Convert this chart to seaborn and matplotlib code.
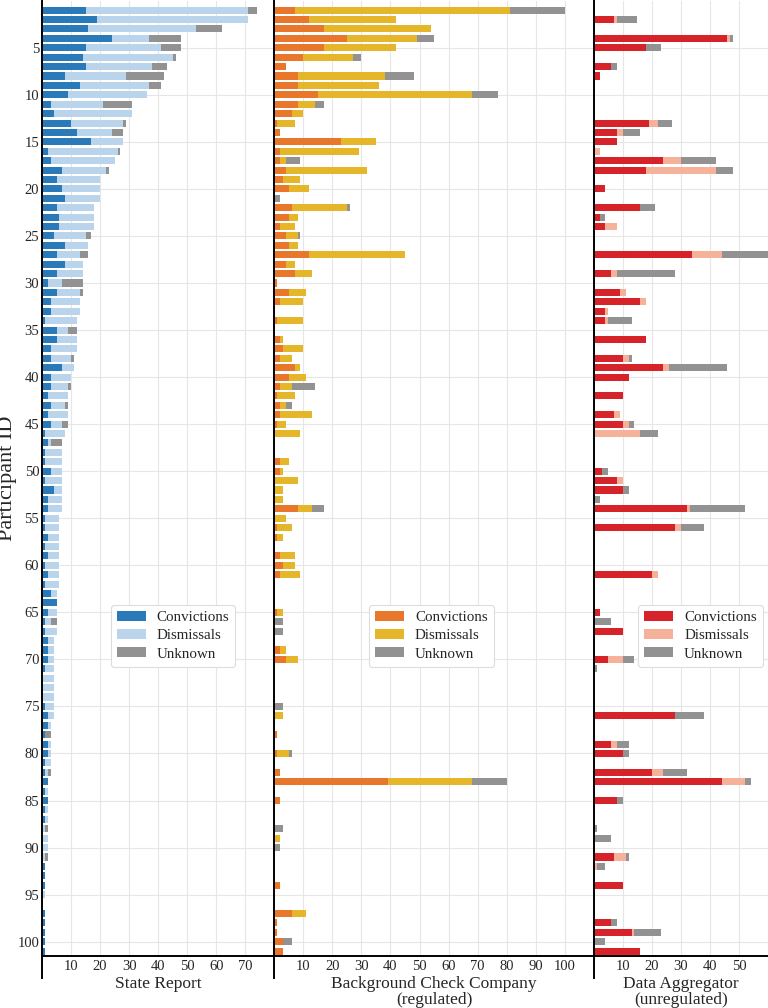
"""
Criminal record counts per participant, by source
=================================================
Three side-by-side stacked bar panels sharing the participant axis.
"""

import matplotlib
matplotlib.use("Agg")
import matplotlib.pyplot as plt
import numpy as np
import pandas as pd
import seaborn as sns

# ─── Data ────────────────────────────────────────────────────────────────────

PARTICIPANTS = list(range(1, 102))

STATE_CONV = [15, 19, 16, 24, 15, 14, 15, 8, 13, 9,
              3, 4, 10, 12, 17, 2, 3, 7, 5, 7,
              8, 5, 6, 6, 4, 8, 5, 8, 5, 2,
              5, 3, 3, 1, 5, 5, 3, 3, 7, 3,
              3, 2, 3, 2, 3, 1, 2, 1, 1, 3,
              1, 4, 2, 2, 1, 1, 2, 1, 2, 1,
              2, 1, 3, 5, 2, 1, 1, 2, 2, 2,
              1, 0, 0, 0, 1, 2, 2, 1, 2, 2,
              1, 1, 2, 1, 2, 1, 1, 0, 0, 0,
              0, 1, 1, 1, 0, 0, 1, 1, 1, 1, 1]
STATE_DISM = [56, 52, 37, 13, 26, 31, 23, 21, 24, 27,
              18, 27, 18, 12, 11, 24, 22, 15, 15, 13,
              12, 13, 12, 12, 11, 8, 8, 6, 9, 5,
              8, 10, 10, 11, 4, 7, 9, 7, 4, 7,
              6, 7, 5, 7, 4, 7, 1, 6, 6, 4,
              6, 3, 5, 5, 5, 5, 4, 5, 4, 5,
              4, 5, 2, 0, 3, 2, 4, 2, 2, 2,
              3, 4, 4, 4, 3, 2, 1, 0, 1, 1,
              2, 1, 0, 1, 0, 1, 1, 1, 2, 2,
              1, 0, 0, 0, 1, 0, 0, 0, 0, 0, 0]
STATE_UNK = [3, 0, 9, 11, 7, 1, 5, 13, 4, 0,
             10, 0, 1, 4, 0, 1, 0, 1, 0, 0,
             0, 0, 0, 0, 2, 0, 3, 0, 0, 7,
             1, 0, 0, 0, 3, 0, 0, 1, 0, 0,
             1, 0, 1, 0, 2, 0, 4, 0, 0, 0,
             0, 0, 0, 0, 0, 0, 0, 0, 0, 0,
             0, 0, 0, 0, 0, 2, 0, 0, 0, 0,
             0, 0, 0, 0, 0, 0, 0, 2, 0, 0,
             0, 1, 0, 0, 0, 0, 0, 1, 0, 0,
             1, 0, 0, 0, 0, 0, 0, 0, 0, 0, 0]

BGC_CONV = [7, 12, 17, 25, 17, 10, 4, 8, 8, 15,
            8, 6, 1, 2, 23, 2, 2, 4, 3, 5,
            0, 6, 5, 2, 4, 5, 12, 4, 7, 1,
            5, 2, 0, 1, 0, 2, 3, 2, 7, 5,
            2, 1, 2, 2, 1, 0, 0, 0, 2, 2,
            0, 0, 0, 8, 0, 1, 1, 0, 2, 3,
            2, 0, 0, 0, 1, 0, 0, 0, 2, 4,
            0, 0, 0, 0, 0, 0, 0, 1, 0, 1,
            0, 2, 39, 0, 2, 0, 0, 0, 0, 0,
            0, 0, 0, 2, 0, 0, 6, 1, 1, 3, 3]
BGC_DISM = [74, 30, 37, 24, 25, 17, 0, 30, 28, 53,
            6, 4, 6, 0, 12, 27, 2, 28, 6, 7,
            0, 19, 3, 5, 4, 3, 33, 3, 6, 0,
            6, 8, 0, 9, 0, 1, 7, 4, 2, 6,
            4, 6, 2, 11, 3, 9, 0, 0, 3, 1,
            8, 3, 3, 5, 4, 5, 2, 0, 5, 4,
            7, 0, 0, 0, 2, 0, 0, 0, 2, 4,
            0, 0, 0, 0, 0, 3, 0, 0, 0, 4,
            0, 0, 29, 0, 0, 0, 0, 0, 2, 0,
            0, 0, 0, 0, 0, 0, 5, 0, 0, 0, 0]
BGC_UNK = [19, 0, 0, 6, 0, 3, 0, 10, 0, 9,
           3, 0, 0, 0, 0, 0, 5, 0, 0, 0,
           2, 1, 0, 0, 1, 0, 0, 0, 0, 0,
           0, 0, 0, 0, 0, 0, 0, 0, 0, 0,
           8, 0, 2, 0, 0, 0, 0, 0, 0, 0,
           0, 0, 0, 4, 0, 0, 0, 0, 0, 0,
           0, 0, 0, 0, 0, 3, 3, 0, 0, 0,
           0, 0, 0, 0, 3, 0, 0, 0, 0, 1,
           0, 0, 12, 0, 0, 0, 0, 3, 0, 2,
           0, 0, 0, 0, 0, 0, 0, 0, 0, 3, 0]

AGG_CONV = [0, 7, 0, 46, 18, 0, 6, 2, 0, 0,
            0, 0, 19, 8, 8, 0, 24, 18, 0, 4,
            0, 16, 2, 4, 0, 0, 34, 0, 6, 0,
            9, 16, 4, 4, 0, 18, 0, 10, 24, 12,
            0, 10, 0, 7, 10, 0, 0, 0, 0, 3,
            8, 10, 0, 32, 0, 28, 0, 0, 0, 0,
            20, 0, 0, 0, 2, 0, 10, 0, 0, 5,
            0, 0, 0, 0, 0, 28, 0, 0, 6, 10,
            0, 20, 44, 0, 8, 0, 0, 0, 0, 0,
            7, 0, 0, 10, 0, 0, 0, 6, 13, 0, 16]
AGG_DISM = [0, 1, 0, 1, 0, 0, 0, 0, 0, 0,
            0, 0, 3, 2, 0, 2, 6, 24, 0, 0,
            0, 0, 0, 4, 0, 0, 10, 0, 2, 0,
            2, 2, 1, 1, 0, 0, 0, 2, 2, 0,
            0, 0, 0, 2, 2, 16, 0, 0, 0, 0,
            2, 0, 0, 1, 0, 2, 0, 0, 0, 0,
            2, 0, 0, 0, 0, 0, 0, 0, 0, 5,
            0, 0, 0, 0, 0, 0, 0, 0, 2, 0,
            0, 4, 8, 0, 0, 0, 0, 0, 0, 0,
            4, 1, 0, 0, 0, 0, 0, 0, 1, 0, 0]
AGG_UNK = [0, 7, 0, 1, 5, 0, 2, 0, 0, 0,
           0, 0, 5, 6, 0, 0, 12, 6, 0, 0,
           0, 5, 2, 0, 0, 0, 16, 0, 20, 0,
           0, 0, 0, 8, 0, 0, 0, 1, 20, 0,
           0, 0, 0, 0, 2, 6, 0, 0, 0, 2,
           0, 2, 2, 19, 0, 8, 0, 0, 0, 0,
           0, 0, 0, 0, 0, 6, 0, 0, 0, 4,
           1, 0, 0, 0, 0, 10, 0, 0, 4, 2,
           0, 8, 2, 0, 2, 0, 0, 1, 6, 0,
           1, 3, 0, 0, 0, 0, 0, 2, 9, 4, 0]

Y_TICKS = list(range(5, 101, 5))

# ─── Style ───────────────────────────────────────────────────────────────────

GREY = "#929292"
PANELS = [
    dict(conv=STATE_CONV, dism=STATE_DISM, unk=STATE_UNK,
         colors=("#2a7ab9", "#bad5eb", GREY), xmax=80,
         xticks=range(10, 71, 10), xlabel="State Report", leg_x=0.565),
    dict(conv=BGC_CONV, dism=BGC_DISM, unk=BGC_UNK,
         colors=("#e8762b", "#e6b62a", GREY), xmax=110,
         xticks=range(10, 101, 10),
         xlabel="Background Check Company\n(regulated)", leg_x=0.4915),
    dict(conv=AGG_CONV, dism=AGG_DISM, unk=AGG_UNK,
         colors=("#d6232a", "#f6b19b", GREY), xmax=60,
         xticks=range(10, 51, 10),
         xlabel="Data Aggregator\n(unregulated)", leg_x=0.6125),
]


def draw_panel(ax, p, show_y):
    df = pd.DataFrame({"pid": PARTICIPANTS, "conv": p["conv"],
                       "dism": p["dism"], "unk": p["unk"]})
    df["conv_dism"] = df["conv"] + df["dism"]
    df["total"] = df["conv_dism"] + df["unk"]

    # overlay cumulative totals -> stacked look
    layers = [("total", p["colors"][2], "Unknown"),
              ("conv_dism", p["colors"][1], "Dismissals"),
              ("conv", p["colors"][0], "Convictions")]
    for col, color, label in layers:
        sns.barplot(data=df, x=col, y="pid", order=PARTICIPANTS, orient="h",
                    color=color, saturation=1, width=0.75, errorbar=None,
                    linewidth=0, edgecolor="none", label=label, ax=ax)

    ax.set_axisbelow(True)
    ax.set_xlim(0, p["xmax"])
    ax.set_ylim(100.5, -1)
    ax.set_xticks(list(p["xticks"]))
    ax.set_yticks([t - 1 for t in Y_TICKS])
    ax.set_yticklabels([str(t) for t in Y_TICKS])
    ax.grid(True, axis="both", color="#e6e6e6", linewidth=0.8)
    ax.tick_params(axis="both", length=0, labelsize=10.5)
    ax.tick_params(axis="x", pad=3)
    ax.tick_params(axis="y", pad=2, labelleft=show_y)

    for side in ["top", "right"]:
        ax.spines[side].set_visible(False)
    for side in ["left", "bottom"]:
        ax.spines[side].set_color("black")
        ax.spines[side].set_linewidth(1.4)
    ax.spines["left"].set_bounds(-1, 102.9)

    ax.set_xlabel(p["xlabel"], fontsize=12.5, labelpad=2, linespacing=1.0)
    if show_y:
        ax.set_ylabel("Participant ID", fontsize=16, labelpad=0)
    else:
        ax.set_ylabel("")

    handles, labels = ax.get_legend_handles_labels()
    leg = ax.legend(handles[::-1], labels[::-1], loc="center",
                    bbox_to_anchor=(p["leg_x"], 0.335), fontsize=10.8,
                    frameon=True, framealpha=1, edgecolor="#dcdcdc",
                    handlelength=1.9, handleheight=0.65, handletextpad=0.75,
                    labelspacing=0.32, borderpad=0.4)
    leg.get_frame().set_linewidth(0.8)


def main():
    sns.set_style("whitegrid")
    plt.rcParams["font.family"] = ["Liberation Serif", "DejaVu Serif"]

    fig, axes = plt.subplots(
        1, 3, figsize=(7.68, 10.08), dpi=100,
        gridspec_kw={"width_ratios": [p["xmax"] for p in PANELS]},
    )
    fig.subplots_adjust(left=42 / 768, right=1.0, top=0.9993,
                        bottom=0.0518, wspace=0)

    for i, (ax, p) in enumerate(zip(axes, PANELS)):
        draw_panel(ax, p, show_y=(i == 0))

    fig.savefig("out.png", dpi=100)
    plt.close(fig)


if __name__ == "__main__":
    main()
